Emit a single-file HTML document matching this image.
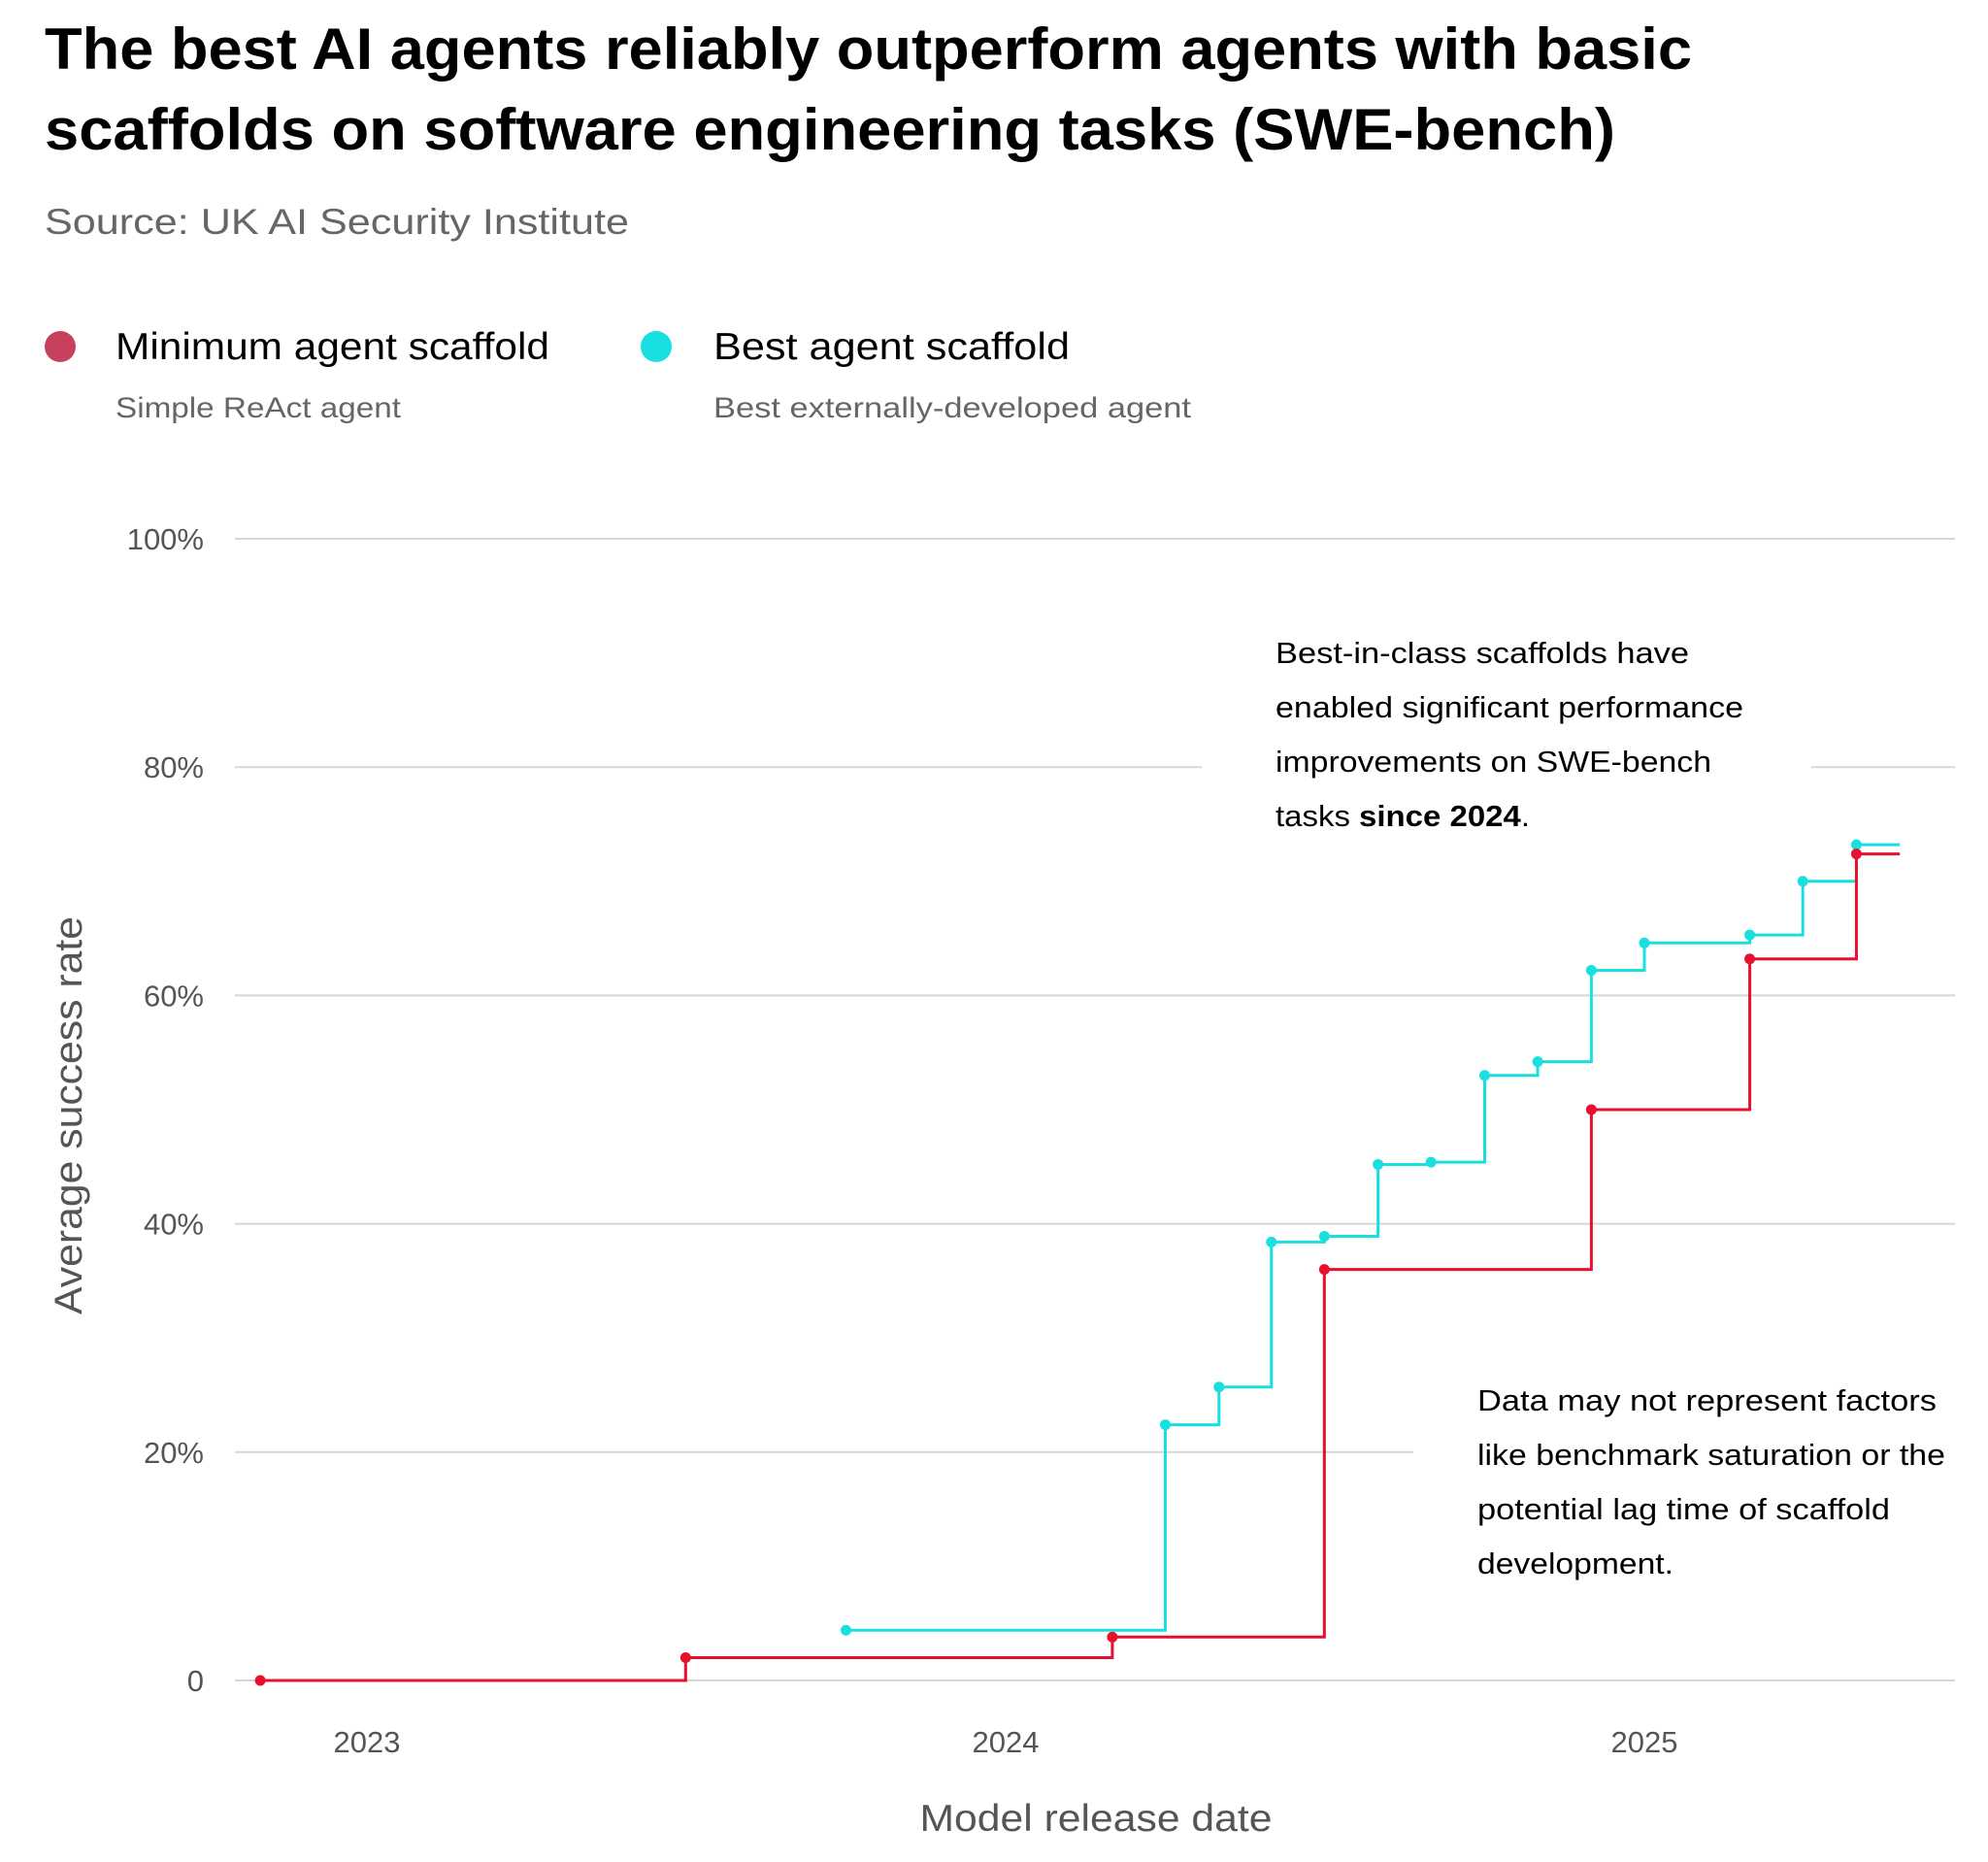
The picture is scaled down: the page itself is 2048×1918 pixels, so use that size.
<!DOCTYPE html>
<html><head><meta charset="utf-8"><style>
html,body{margin:0;padding:0;background:#fff;}
svg{display:block;font-family:"Liberation Sans",sans-serif;}
</style></head><body>
<svg id="chart" width="2048" height="1918" viewBox="0 0 2048 1918">
<text x="46" y="71" font-size="60" font-weight="bold" fill="#000" textLength="1697" lengthAdjust="spacingAndGlyphs">The best AI agents reliably outperform agents with basic</text>
<text x="46" y="154" font-size="60" font-weight="bold" fill="#000" textLength="1618" lengthAdjust="spacingAndGlyphs">scaffolds on software engineering tasks (SWE-bench)</text>
<text x="46" y="241" font-size="37" fill="#666" textLength="602" lengthAdjust="spacingAndGlyphs">Source: UK AI Security Institute</text>
<g>
<circle cx="62" cy="357" r="16" fill="#c8415c"/>
<text x="119" y="370" font-size="39" fill="#000" textLength="447" lengthAdjust="spacingAndGlyphs">Minimum agent scaffold</text>
<text x="119" y="430" font-size="30" fill="#666" textLength="294" lengthAdjust="spacingAndGlyphs">Simple ReAct agent</text>
<circle cx="676" cy="357" r="16" fill="#1adfe0"/>
<text x="735" y="370" font-size="39" fill="#000" textLength="367" lengthAdjust="spacingAndGlyphs">Best agent scaffold</text>
<text x="735" y="430" font-size="30" fill="#666" textLength="492" lengthAdjust="spacingAndGlyphs">Best externally-developed agent</text>
</g>
<g id="grid"></g>
<g id="ylabels"></g>
<g id="xlabels"></g>
<rect x="1238" y="640" width="628" height="240" fill="#fff"/>
<rect x="1456" y="1400" width="580" height="240" fill="#fff"/>
<g id="series"></g>
<g font-size="31" fill="#000">
<text x="1314" y="683" textLength="426" lengthAdjust="spacingAndGlyphs">Best-in-class scaffolds have</text>
<text x="1314" y="739" textLength="482" lengthAdjust="spacingAndGlyphs">enabled significant performance</text>
<text x="1314" y="795" textLength="449" lengthAdjust="spacingAndGlyphs">improvements on SWE-bench</text>
<text x="1314" y="851" textLength="262" lengthAdjust="spacingAndGlyphs">tasks <tspan font-weight="bold">since 2024</tspan>.</text>
</g>
<g font-size="31" fill="#000">
<text x="1522" y="1453" textLength="473" lengthAdjust="spacingAndGlyphs">Data may not represent factors</text>
<text x="1522" y="1509" textLength="482" lengthAdjust="spacingAndGlyphs">like benchmark saturation or the</text>
<text x="1522" y="1565" textLength="425" lengthAdjust="spacingAndGlyphs">potential lag time of scaffold</text>
<text x="1522" y="1621" textLength="202" lengthAdjust="spacingAndGlyphs">development.</text>
</g>
<text x="1129" y="1886" font-size="39" fill="#555" text-anchor="middle" textLength="363" lengthAdjust="spacingAndGlyphs">Model release date</text>
<text transform="translate(84,1149) rotate(-90)" font-size="40" fill="#555" text-anchor="middle" textLength="410" lengthAdjust="spacingAndGlyphs">Average success rate</text>
</svg>
<script>
const yTicks = [0, 20, 40, 60, 80, 100];
const yTickLabels = ["0", "20%", "40%", "60%", "80%", "100%"];
const xTicks = [2023, 2024, 2025];
const xTickLabels = ["2023", "2024", "2025"];
const minDates = [2022.833, 2023.499, 2024.167, 2024.499, 2024.917, 2025.165, 2025.332];
const minValues = [0, 2.0, 3.8, 36, 50, 63.2, 72.4];
const bestDates = [2023.750, 2024.25, 2024.334, 2024.416, 2024.499, 2024.583, 2024.666, 2024.75, 2024.833, 2024.917, 2025.0, 2025.165, 2025.248, 2025.332];
const bestValues = [4.4, 22.4, 25.7, 38.4, 38.9, 45.2, 45.4, 53.0, 54.2, 62.2, 64.6, 65.3, 70.0, 73.2];
const endDate = 2025.4;

const NS = "http://www.w3.org/2000/svg";
const X0 = 242, X1 = 2014, Y0 = 1731, Y100 = 555;
function xs(d){ return 378 + (d - 2023) * 658; }
function ys(v){ return Y0 - (v / 100) * (Y0 - Y100); }
function mk(tag, attrs, parent){ const e = document.createElementNS(NS, tag); for (const k in attrs) e.setAttribute(k, attrs[k]); parent.appendChild(e); return e; }

const grid = document.getElementById('grid');
const yl = document.getElementById('ylabels');
yTicks.forEach((t, i) => {
  const l = mk('line', {x1: X0, x2: X1, y1: ys(t), y2: ys(t), stroke: '#d6d6d6', 'stroke-width': 2}, grid);
  
  
  const tx = mk('text', {x: 210, y: ys(t) + 11, 'font-size': 31, fill: '#555', 'text-anchor': 'end'}, yl);
  tx.textContent = yTickLabels[i];
  
  
});
const xl = document.getElementById('xlabels');
xTicks.forEach((t, i) => {
  const tx = mk('text', {x: xs(t), y: 1805, 'font-size': 31, fill: '#555', 'text-anchor': 'middle'}, xl);
  tx.textContent = xTickLabels[i];
  
  
});

const series = document.getElementById('series');
function drawStep(dates, vals, color, name){
  let d = 'M' + xs(dates[0]) + ',' + ys(vals[0]);
  for (let i = 1; i < dates.length; i++) {
    d += ' H' + xs(dates[i]) + ' V' + ys(vals[i]);
  }
  d += ' H' + xs(endDate);
  const p = mk('path', {d: d, fill: 'none', stroke: color, 'stroke-width': 3}, series);
  
  
  dates.forEach((dt, i) => {
    const c = mk('circle', {cx: xs(dt), cy: ys(vals[i]), r: 5.5, fill: color}, series);
    
    
  });
}
drawStep(bestDates, bestValues, '#1adfe0', 'best-scaffold');
drawStep(minDates, minValues, '#e8102f', 'min-scaffold');
</script>
</body></html>
